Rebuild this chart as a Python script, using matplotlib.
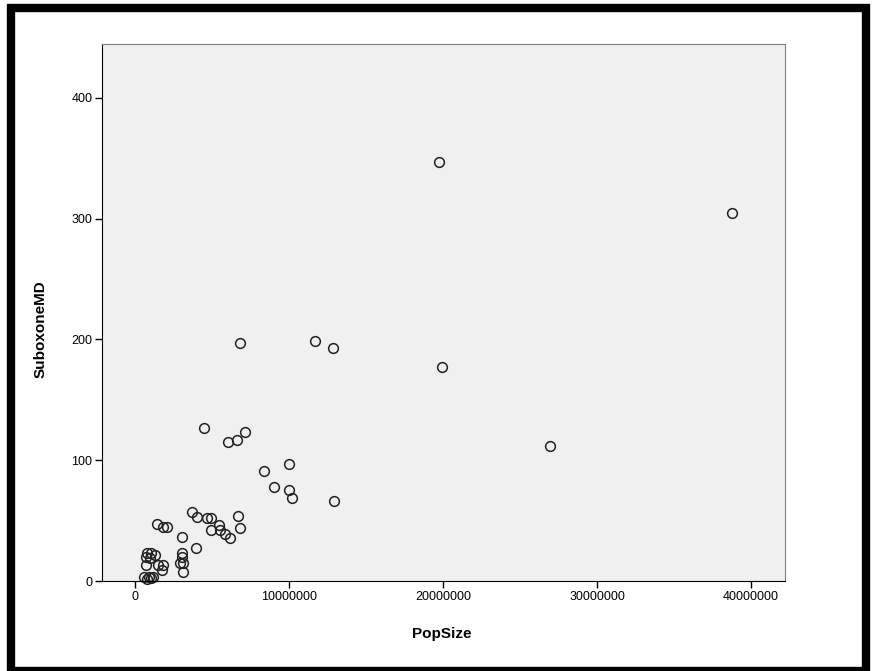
import matplotlib
matplotlib.use("Agg")
import matplotlib.pyplot as plt
from matplotlib.patches import Rectangle

plt.rcParams['font.family'] = ['Liberation Sans', 'DejaVu Sans']

# population size (millions) vs SuboxoneMD
pop_millions = [19.74, 38.77, 6.82, 11.67, 12.86, 19.94, 26.97, 12.92,
                4.50, 6.06, 6.62, 7.12, 8.40, 9.98, 9.00, 10.00, 10.17,
                3.68, 4.05, 4.70, 4.94, 5.45, 4.94, 5.52, 5.82, 6.17, 6.69, 6.82,
                1.41, 1.84, 2.10, 3.03, 3.96,
                0.76, 1.04, 1.30, 0.71, 0.95, 0.71, 1.51, 1.84, 1.73,
                3.03, 3.03, 2.92, 3.10, 3.14,
                0.60, 0.75, 0.90, 1.05, 1.15]
suboxone_md = [347, 305, 197, 199, 193, 177, 112, 66.5,
               127, 115, 117, 123, 91, 97, 78, 75, 69,
               57, 53, 52, 52, 46, 42, 42, 39, 36, 54, 44,
               47, 44.5, 44.5, 36.5, 27.5,
               23.4, 23.4, 21.5, 20, 19, 13, 13, 13.5, 9,
               23.4, 20, 14.5, 14.5, 7.2,
               3, 2, 3.5, 2.5, 3]
pop_size = [p * 1e6 for p in pop_millions]

x_ticks = [0, 10000000, 20000000, 30000000, 40000000]
y_ticks = [0, 100, 200, 300, 400]

fig = plt.figure(figsize=(8.78, 6.71), dpi=100)
ax = fig.add_axes([102/878, 1 - 581/671, 683/878, 537/671])
ax.set_facecolor("#f0f0f0")

ax.plot(pop_size, suboxone_md, 'o', ms=7, mfc='none', mec='#222222', mew=1.1,
        clip_on=False)

ax.set_xlim(-2.14e6, 42.2e6)
ax.set_ylim(0, 444.7)
ax.set_xticks(x_ticks)
ax.set_xticklabels([str(t) for t in x_ticks])
ax.set_yticks(y_ticks)
ax.set_yticklabels([str(t) for t in y_ticks])
ax.tick_params(direction='out', length=5, width=1, labelsize=9, colors='black', pad=2)

ax.spines['left'].set_color('black')
ax.spines['bottom'].set_color('black')
ax.spines['top'].set_color('#808080')
ax.spines['right'].set_color('#808080')

ax.set_xlabel("PopSize", fontsize=11, fontweight='bold')
ax.set_ylabel("SuboxoneMD", fontsize=11, fontweight='bold')
ax.xaxis.set_label_coords(0.497, -0.086)
ax.yaxis.set_label_coords(-0.079, 0.469)

# thick black frame around the whole picture
fig.patches.append(Rectangle((11/878, 0.0), 855/878, 1 - 8/671, transform=fig.transFigure,
                             fill=False, edgecolor='black', linewidth=6, zorder=10))

fig.savefig("out.png", dpi=100)
